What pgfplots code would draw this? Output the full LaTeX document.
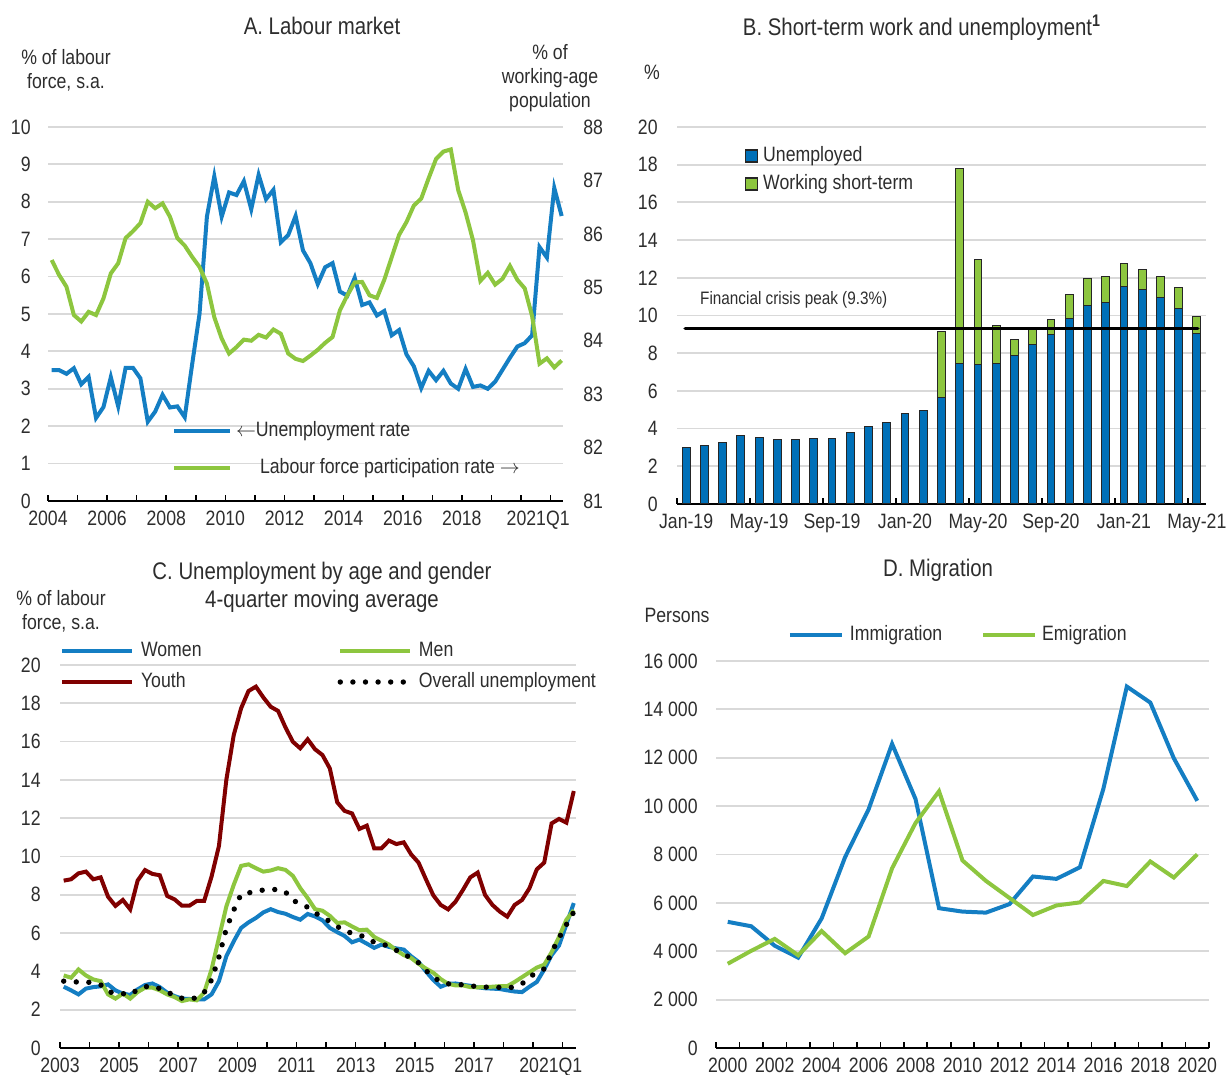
\documentclass[border=0pt]{standalone}
\usepackage{pgfplots}
\pgfplotsset{compat=1.18}
\usepackage{pgfplotstable}
\usepackage{fontspec}
\setmainfont{Liberation Sans}[FakeStretch=0.85]
\definecolor{lblue}{RGB}{20,126,195}
\definecolor{bblue}{RGB}{0,112,184}
\definecolor{lgreen}{RGB}{141,198,63}
\definecolor{dred}{RGB}{128,0,0}
\definecolor{gridc}{RGB}{217,217,217}
\definecolor{txt}{RGB}{45,45,45}
\newcommand{\tf}{\fontsize{10.4bp}{12bp}\selectfont}
\newcommand{\ttl}{\fontsize{12bp}{14bp}\selectfont}

\pgfplotstableread{
t u l
2004.125 3.50 85.51
2004.375 3.50 85.23
2004.625 3.40 85.01
2004.875 3.55 84.48
2005.125 3.12 84.36
2005.375 3.32 84.54
2005.625 2.22 84.48
2005.875 2.51 84.79
2006.125 3.31 85.26
2006.375 2.53 85.45
2006.625 3.56 85.92
2006.875 3.56 86.05
2007.125 3.28 86.20
2007.375 2.12 86.60
2007.625 2.39 86.48
2007.875 2.84 86.57
2008.125 2.50 86.32
2008.375 2.53 85.92
2008.625 2.24 85.78
2008.875 3.65 85.57
2009.125 5.00 85.38
2009.375 7.60 85.07
2009.625 8.68 84.44
2009.875 7.60 84.04
2010.125 8.25 83.76
2010.375 8.18 83.88
2010.625 8.55 84.02
2010.875 7.80 84.00
2011.125 8.72 84.11
2011.375 8.07 84.06
2011.625 8.32 84.21
2011.875 6.92 84.13
2012.125 7.11 83.76
2012.375 7.62 83.66
2012.625 6.70 83.62
2012.875 6.36 83.72
2013.125 5.80 83.83
2013.375 6.25 83.96
2013.625 6.36 84.07
2013.875 5.60 84.57
2014.125 5.49 84.85
2014.375 5.97 85.09
2014.625 5.24 85.10
2014.875 5.31 84.85
2015.125 4.96 84.80
2015.375 5.08 85.14
2015.625 4.43 85.56
2015.875 4.57 85.98
2016.125 3.92 86.22
2016.375 3.60 86.53
2016.625 3.02 86.66
2016.875 3.48 87.04
2017.125 3.23 87.40
2017.375 3.48 87.54
2017.625 3.14 87.58
2017.875 3.00 86.82
2018.125 3.53 86.40
2018.375 3.05 85.88
2018.625 3.09 85.12
2018.875 3.00 85.27
2019.125 3.19 85.05
2019.375 3.51 85.16
2019.625 3.83 85.40
2019.875 4.13 85.14
2020.125 4.22 84.98
2020.375 4.43 84.46
2020.625 6.79 83.57
2020.875 6.51 83.67
2021.125 8.37 83.50
2021.375 7.62 83.63
}\tabA

\pgfplotstableread{
x u s
0 2.98 0
1 3.12 0
2 3.24 0
3 3.66 0
4 3.52 0
5 3.40 0
6 3.42 0
7 3.47 0
8 3.49 0
9 3.79 0
10 4.12 0
11 4.31 0
12 4.79 0
13 4.95 0
14 5.67 3.48
15 7.46 10.32
16 7.38 5.60
17 7.46 2.01
18 7.87 0.88
19 8.47 0.91
20 8.98 0.79
21 9.86 1.23
22 10.55 1.40
23 10.70 1.38
24 11.53 1.23
25 11.37 1.09
26 10.97 1.11
27 10.37 1.09
28 9.07 0.89
}\tabB

\pgfplotstableread{
t w m y o
2003.125 3.20 3.79 8.74 3.49
2003.375 3.01 3.67 8.81 3.45
2003.625 2.80 4.10 9.12 3.45
2003.875 3.10 3.79 9.21 3.45
2004.125 3.18 3.58 8.81 3.40
2004.375 3.22 3.49 8.91 3.30
2004.625 3.32 2.80 7.90 2.95
2004.875 3.01 2.58 7.42 2.85
2005.125 2.84 2.84 7.73 2.84
2005.375 2.77 2.58 7.24 2.78
2005.625 3.06 2.92 8.74 3.05
2005.875 3.29 3.15 9.29 3.20
2006.125 3.37 3.15 9.09 3.22
2006.375 3.18 3.01 9.02 3.10
2006.625 2.89 2.80 7.94 2.95
2006.875 2.71 2.66 7.76 2.70
2007.125 2.58 2.45 7.43 2.60
2007.375 2.56 2.54 7.43 2.56
2007.625 2.54 2.49 7.68 2.62
2007.875 2.54 2.89 7.68 2.90
2008.125 2.80 4.10 8.95 3.55
2008.375 3.49 5.75 10.55 4.75
2008.625 4.79 7.39 14.00 6.23
2008.875 5.57 8.52 16.34 7.20
2009.125 6.27 9.51 17.74 8.03
2009.375 6.56 9.59 18.64 8.10
2009.625 6.79 9.39 18.87 8.18
2009.875 7.08 9.21 18.31 8.25
2010.125 7.25 9.27 17.82 8.27
2010.375 7.10 9.39 17.60 8.28
2010.625 7.01 9.30 16.74 8.15
2010.875 6.84 8.99 15.99 7.70
2011.125 6.70 8.35 15.65 7.55
2011.375 7.00 7.83 16.12 7.35
2011.625 6.87 7.25 15.60 7.05
2011.875 6.67 7.17 15.30 6.85
2012.125 6.27 6.90 14.60 6.60
2012.375 6.05 6.53 12.83 6.35
2012.625 5.85 6.56 12.38 6.10
2012.875 5.52 6.35 12.25 6.00
2013.125 5.66 6.15 11.44 5.90
2013.375 5.45 6.18 11.61 5.75
2013.625 5.23 5.80 10.43 5.52
2013.875 5.40 5.60 10.43 5.45
2014.125 5.28 5.40 10.83 5.30
2014.375 5.20 5.10 10.65 5.10
2014.625 5.14 4.85 10.74 4.95
2014.875 4.79 4.70 10.11 4.65
2015.125 4.50 4.40 9.68 4.45
2015.375 4.00 4.15 8.81 4.05
2015.625 3.55 3.93 7.97 3.70
2015.875 3.20 3.60 7.47 3.45
2016.125 3.35 3.35 7.24 3.35
2016.375 3.37 3.27 7.64 3.33
2016.625 3.30 3.27 8.25 3.30
2016.875 3.25 3.18 8.91 3.25
2017.125 3.17 3.17 9.16 3.20
2017.375 3.12 3.18 7.99 3.18
2017.625 3.10 3.20 7.47 3.18
2017.875 3.08 3.23 7.12 3.16
2018.125 3.01 3.23 6.86 3.12
2018.375 2.95 3.45 7.47 3.20
2018.625 2.92 3.70 7.73 3.35
2018.875 3.20 3.95 8.34 3.70
2019.125 3.45 4.20 9.33 3.95
2019.375 4.10 4.35 9.68 4.13
2019.625 4.85 5.00 11.73 5.00
2019.875 5.35 5.80 11.96 5.75
2020.125 6.45 6.70 11.77 6.44
2020.375 7.57 7.20 13.42 7.10
}\tabC

\pgfplotstableread{
x im em
2000 5216 3482
2001 5033 4018
2002 4229 4511
2003 3736 3834
2004 5357 4835
2005 7894 3919
2006 9868 4610
2007 12574 7429
2008 10291 9304
2009 5780 10615
2010 5639 7753
2011 5597 6907
2012 5949 6203
2013 7091 5498
2014 6992 5893
2015 7471 6020
2016 10714 6907
2017 14943 6696
2018 14280 7711
2019 11982 7048
2020 10220 8007
}\tabD

\pgfplotsset{
  myaxis/.style={
    scale only axis,
    anchor=south west,
    enlargelimits=false,
    axis x line*=bottom,
    axis y line*=left,
    y axis line style={draw=none},
    x axis line style={black, line width=1bp},
    ytick style={draw=none},
    xtick style={black, line width=0.8bp},
    xtick align=inside,
    major tick length=3bp,
    ymajorgrids,
    grid style={gridc, line width=0.9bp},
    tick label style={font=\tf, text=txt},
    /pgf/number format/assume math mode=true,
    xticklabel style={inner sep=0pt, yshift=-5bp},
    clip=false,
    legend cell align=left,
    legend style={draw=none, fill=none, inner sep=0pt, outer sep=0pt, font=\tf, text=txt,
      nodes={inner sep=0pt, text height=7.5bp, text depth=2bp}},
  },
}

\begin{document}
\begin{tikzpicture}
\useasboundingbox (0,0) rectangle (613bp,537.5bp);

% ---------- Panel A ----------
\begin{axis}[myaxis, at={(24bp,287bp)}, width=257.5bp, height=187bp,
  xmin=2004, xmax=2021.42, ymin=0, ymax=10, ytick={0,1,...,10},
  yticklabel style={inner sep=0pt, xshift=-8.5bp},
  xtick={2004,2005,...,2021}, xticklabels={},
  extra x ticks={2004,2006,2008,2010,2012,2014,2016,2018,2020.58},
  extra x tick labels={2004,2006,2008,2010,2012,2014,2016,2018,2021Q1},
  extra x tick style={major tick length=0pt},
]
\addplot[lblue, line width=2bp] table[x=t, y=u]{\tabA};
\end{axis}
\begin{axis}[myaxis, at={(24bp,287bp)}, width=257.5bp, height=187bp,
  axis x line=none, axis y line*=right, ymajorgrids=false,
  xmin=2004, xmax=2021.42, ymin=81, ymax=88, ytick={81,82,...,88},
  yticklabel style={inner sep=0pt, anchor=west, xshift=10bp},
  legend style={at={(0.2408,0.1377)}, anchor=west, row sep=9bp,
    /tikz/column 1/.style={column sep=2bp}},
  legend image code/.code={\draw[#1] (0bp,0bp) -- (28bp,0bp);},
]
\addlegendimage{lblue, line width=2bp}
\addlegendentry{$\leftarrow$Unemployment rate}
\addplot[lgreen, line width=2bp] table[x=t, y=l]{\tabA};
\addlegendentry{\hspace{12bp}Labour force participation rate $\rightarrow$}
\end{axis}

% ---------- Panel B ----------
\begin{axis}[myaxis, at={(338.5bp,285.5bp)}, width=264.5bp, height=188.5bp,
  xmin=-0.5, xmax=28.5, ymin=0, ymax=20, ytick={0,2,...,20},
  yticklabel style={inner sep=0pt, xshift=-9.5bp},
  ybar stacked, bar width=0.43,
  xtick={-0.5,3.5,...,27.5}, xticklabels={},
  extra x ticks={0,4,8,12,16,20,24,28},
  extra x tick labels={Jan-19,May-19,Sep-19,Jan-20,May-20,Sep-20,Jan-21,May-21},
  extra x tick style={major tick length=0pt},
  legend style={at={(0.1285,0.886)}, anchor=west, row sep=4.5bp,
    /tikz/column 1/.style={column sep=2.5bp}},
]
\addplot[fill=bblue, draw=black!85, line width=0.5bp,
  legend image code/.code={\draw[fill=bblue, draw=black!85, line width=0.6bp] (0bp,-3bp) rectangle (6bp,3bp);}]
  table[x=x, y=u]{\tabB};
\addlegendentry{Unemployed}
\addplot[fill=lgreen, draw=black!85, line width=0.5bp,
  legend image code/.code={\draw[fill=lgreen, draw=black!85, line width=0.6bp] (0bp,-3bp) rectangle (6bp,3bp);}]
  table[x=x, y=s]{\tabB};
\addlegendentry{Working short-term}
\end{axis}
\begin{axis}[scale only axis, anchor=south west, at={(338.5bp,285.5bp)}, width=264.5bp, height=188.5bp,
  xmin=-0.5, xmax=28.5, ymin=0, ymax=20, hide axis, clip=false]
\addplot[black, line width=1.8bp, line cap=round] coordinates {(-0.05,9.3) (28.05,9.3)};
\node[font=\fontsize{9bp}{11bp}\selectfont, text=txt] at (axis cs:5.9,10.82) {Financial crisis peak (9.3\%)};
\end{axis}

% ---------- Panel C ----------
\begin{axis}[myaxis, at={(30bp,13.5bp)}, width=258bp, height=191.5bp,
  xmin=2003, xmax=2020.45, ymin=0, ymax=20, ytick={0,2,...,20},
  yticklabel style={inner sep=0pt, xshift=-9.5bp},
  xtick={2003,2004,...,2020}, xticklabels={},
  extra x ticks={2003,2005,2007,2009,2011,2013,2015,2017,2019.6},
  extra x tick labels={2003,2005,2007,2009,2011,2013,2015,2017,2021Q1},
  extra x tick style={major tick length=0pt},
  legend columns=2,
  legend style={at={(0,0.996)}, anchor=west, row sep=6bp,
    /tikz/column 1/.style={column sep=3.5bp},
    /tikz/column 2/.style={column sep=68bp},
    /tikz/column 3/.style={column sep=3bp}},
  legend image code/.code={\draw[#1] (0bp,0bp) -- (35bp,0bp);},
]
\addplot[lblue, line width=2bp] table[x=t, y=w]{\tabC};
\addlegendentry{Women}
\addplot[lgreen, line width=2bp] table[x=t, y=m]{\tabC};
\addlegendentry{Men}
\addplot[dred, line width=2bp] table[x=t, y=y]{\tabC};
\addlegendentry{Youth}
\addplot[black, line width=2.7bp, line cap=round, dash pattern=on 0bp off 6.3bp] table[x=t, y=o]{\tabC};
\addlegendentry{Overall unemployment}
\end{axis}

% ---------- Panel D ----------
\begin{axis}[myaxis, at={(358bp,13.5bp)}, width=246.5bp, height=193.5bp,
  xmin=1999.5, xmax=2020.5, ymin=0, ymax=16000, ytick={0,2000,...,16000},
  scaled y ticks=false,
  yticklabels={0,2 000,4 000,6 000,8 000,10 000,12 000,14 000,16 000},
  yticklabel style={inner sep=0pt, xshift=-9bp},
  xtick={1999.5,2000.5,...,2020.5}, xticklabels={},
  extra x ticks={2000,2002,2004,2006,2008,2010,2012,2014,2016,2018,2020},
  extra x tick labels={2000,2002,2004,2006,2008,2010,2012,2014,2016,2018,2020},
  extra x tick style={major tick length=0pt},
  legend columns=2,
  legend style={at={(0.146,1.067)}, anchor=west,
    /tikz/column 1/.style={column sep=3bp},
    /tikz/column 2/.style={column sep=19.4bp},
    /tikz/column 3/.style={column sep=2.5bp}},
  legend image code/.code={\draw[#1] (0bp,0bp) -- (26bp,0bp);},
]
\addplot[lblue, line width=2bp] table[x=x, y=im]{\tabD};
\addlegendentry{Immigration}
\addplot[lgreen, line width=2bp] table[x=x, y=em]{\tabD};
\addlegendentry{Emigration}
\end{axis}

% ---------- Titles and unit labels ----------
\node[font=\ttl, text=txt] at (161bp,524.5bp) {A. Labour market};
\node[font=\tf, text=txt, align=center] at (33bp,502.5bp) {\% of labour\\force, s.a.};
\node[font=\tf, text=txt, align=center] at (275bp,498.5bp) {\% of\\working-age\\population};
\node[font=\ttl, text=txt] at (461bp,523.5bp) {B. Short-term work and unemployment\textsuperscript{\textbf{1}}};
\node[font=\tf, text=txt] at (326bp,501.5bp) {\%};
\node[font=\ttl, text=txt, align=center] at (161bp,244bp) {C. Unemployment by age and gender\\4-quarter moving average};
\node[font=\tf, text=txt, align=center] at (30.5bp,232bp) {\% of labour\\force, s.a.};
\node[font=\ttl, text=txt] at (469bp,252.5bp) {D. Migration};
\node[font=\tf, text=txt] at (338.5bp,230bp) {Persons};
\end{tikzpicture}
\end{document}
